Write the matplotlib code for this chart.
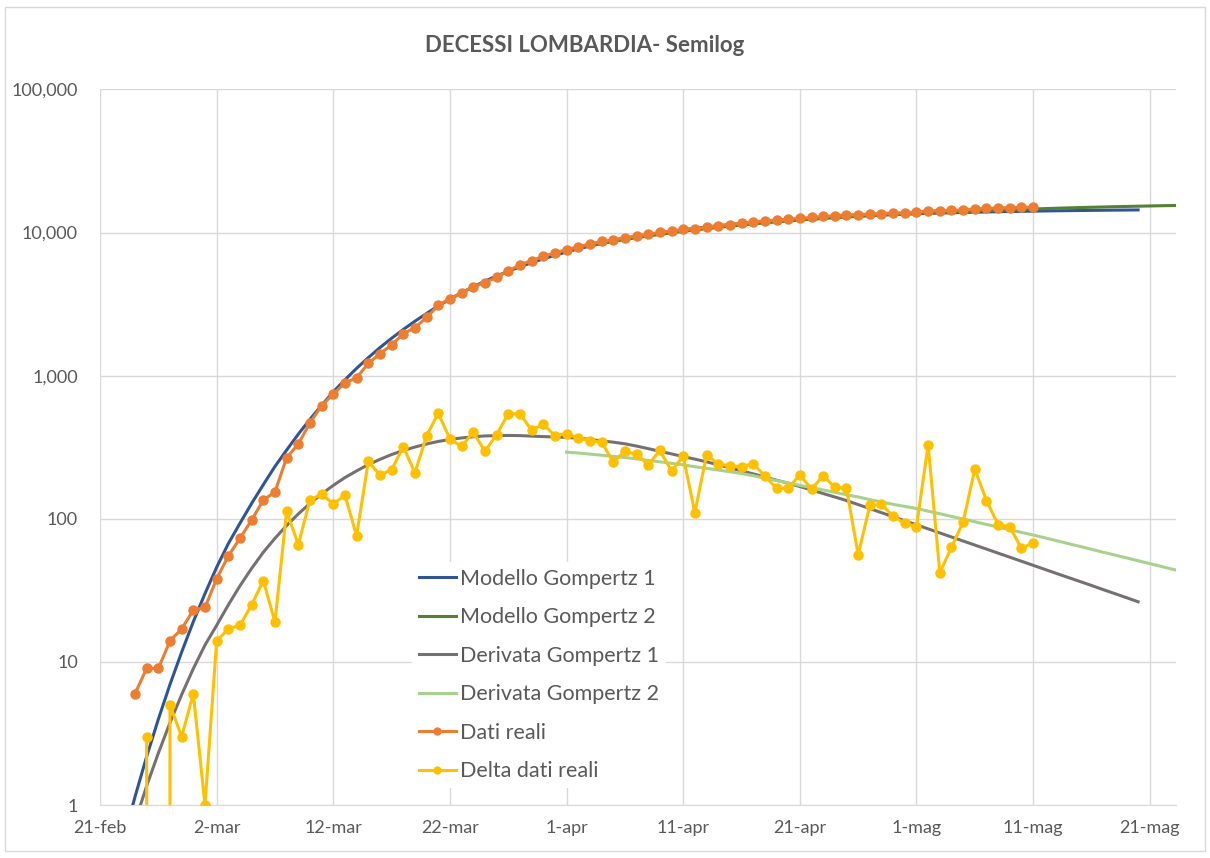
import matplotlib
matplotlib.use("Agg")
import matplotlib.pyplot as plt
from matplotlib.patches import Rectangle

# days counted from 21-feb (day 0)
x_ticks = [0, 10, 20, 30, 40, 50, 60, 70, 80, 90]
x_labels = ["21-feb", "2-mar", "12-mar", "22-mar", "1-apr", "11-apr",
            "21-apr", "1-mag", "11-mag", "21-mag"]
y_ticks = [1, 10, 100, 1000, 10000, 100000]
y_labels = ["1", "10", "100", "1,000", "10,000", "100,000"]

# Dati reali (cumulative deaths), days 3..80
real_start = 3
real = [6, 9, 9, 14, 17, 23, 24,
        38, 55, 73, 98, 135, 154, 267, 333, 468, 617,
        744, 890, 966, 1218, 1420, 1640, 1959, 2168, 2549, 3095,
        3456, 3776, 4178, 4474, 4861, 5402, 5944, 6360, 6818, 7199,
        7593, 7960, 8311, 8656, 8905, 9202, 9484, 9722, 10022, 10238,
        10511, 10621, 10901, 11142, 11377, 11608, 11851, 12050, 12213, 12376,
        12579, 12740, 12940, 13106, 13269, 13325, 13449, 13575, 13679, 13772,
        13860, 14189, 14231, 14294, 14389, 14611, 14745, 14836, 14924, 14986,
        15054]

# Delta dati reali, days 4..80
delta_start = 4
delta = [3, 0, 5, 3, 6, 1,
         14, 17, 18, 25, 37, 19, 113, 66, 135, 149,
         127, 146, 76, 252, 202, 220, 319, 209, 381, 546,
         361, 320, 402, 296, 387, 541, 542, 416, 458, 381,
         394, 367, 351, 345, 249, 297, 282, 238, 300, 216,
         273, 110, 280, 241, 235, 231, 243, 199, 163, 163,
         203, 161, 200, 166, 163, 56, 124, 126, 104, 93,
         88, 329, 42, 63, 95, 222, 134, 91, 88, 62,
         68]

# Modello Gompertz 1, days 2..89
gomp1_start = 2
gomp1 = [0.57, 1.14, 2.18, 3.97, 6.96, 11.7, 19.1, 30.0,
         45.8, 67.0, 93, 128, 173, 232, 302, 390, 495, 620,
         770, 935, 1125, 1335, 1570, 1825, 2100, 2400, 2720, 3065,
         3425, 3800, 4180, 4570, 4965, 5360, 5760, 6155, 6550, 6935,
         7320, 7690, 8045, 8388, 8716, 9032, 9337, 9630, 9912, 10183,
         10440, 10687, 10922, 11146, 11357, 11559, 11750, 11931, 12103, 12264,
         12416, 12560, 12695, 12823, 12943, 13057, 13162, 13261, 13355, 13443,
         13525, 13602, 13675, 13742, 13805, 13865, 13921, 13972, 14019, 14066,
         14108, 14147, 14184, 14218, 14251, 14281, 14310, 14335, 14360, 14383]

# Derivata Gompertz 1, days 3..89
der1_start = 3
der1 = [0.76, 1.36, 2.30, 3.76, 5.90, 8.97, 13.1,
        18.0, 25.0, 34.0, 45.0, 58.3, 73.0, 89.7, 108, 128, 149,
        171, 194, 216, 239, 260, 281, 300, 317, 333, 347,
        358, 367, 374, 379, 381, 382, 381, 378, 375, 373,
        370, 366, 358, 350, 343, 334, 322, 309, 296, 284,
        272, 261, 250, 238, 227, 216, 206, 196, 186, 177,
        168, 159, 150, 142, 134, 125.6, 117.7, 110.3, 103.3, 96.8,
        90.7, 85.0, 79.6, 74.6, 69.9, 65.5, 61.4, 57.5, 53.9, 50.5,
        47.3, 44.3, 41.5, 38.9, 36.5, 34.2, 32.0, 30.0, 28.1, 26.3]

# Modello Gompertz 2, days 40..93
gomp2_start = 40
gomp2 = [7550, 7838, 8121, 8399, 8672, 8940, 9202, 9458, 9708, 9952,
         10190, 10421, 10646, 10865, 11078, 11285, 11485, 11677, 11862, 12040,
         12211, 12376, 12535, 12688, 12835, 12977, 13113, 13244, 13370, 13492,
         13610, 13723, 13831, 13935, 14035, 14131, 14223, 14311, 14395, 14475,
         14600, 14690, 14780, 14860, 14940, 15010, 15080, 15150, 15210, 15270,
         15330, 15390, 15440, 15490]

# Derivata Gompertz 2, days 40..93
der2_start = 40
der2 = [292, 288, 283, 278, 273, 268, 262, 256, 250, 244,
        238, 231, 225, 219, 213, 207, 200, 192, 185, 178,
        171, 165, 159, 153, 147, 142, 136, 131, 126, 122,
        118, 113, 108.4, 103.8, 99.5, 95.3, 91.3, 87.5, 83.8, 80.3,
        77, 73.6, 70.3, 67.1, 64.1, 61.2, 58.4, 55.8, 53.3, 50.9,
        48.6, 46.4, 44.3, 42.3]


def days(start, values):
    return list(range(start, start + len(values)))


plt.rcParams['font.family'] = ['Lato', 'DejaVu Sans']

fig = plt.figure(figsize=(12.10, 8.58), dpi=100)
ax = fig.add_axes([100 / 1210, 1 - 805 / 858, 1076 / 1210, 715.6 / 858])

lw = 2.2
ax.plot(days(gomp1_start, gomp1), gomp1, color='#2F5597', lw=lw, label='Modello Gompertz 1', zorder=3)
ax.plot(days(gomp2_start, gomp2), gomp2, color='#548235', lw=lw, label='Modello Gompertz 2', zorder=3)
ax.plot(days(der1_start, der1), der1, color='#767171', lw=lw, label='Derivata Gompertz 1', zorder=3)
ax.plot(days(der2_start, der2), der2, color='#A9D18E', lw=lw, label='Derivata Gompertz 2', zorder=3)
ax.plot(days(real_start, real), real, color='#ED7D31', lw=lw, marker='o', ms=6.5,
        label='Dati reali', zorder=4)
ax.plot(days(delta_start, delta), delta, color='#FFC000', lw=lw, marker='o', ms=6.5,
        label='Delta dati reali', zorder=5)

ax.set_yscale('log')
ax.set_ylim(1, 100000)
ax.set_xlim(0, 92.25)
ax.set_yticks(y_ticks)
ax.set_yticklabels(y_labels)
ax.yaxis.set_minor_locator(matplotlib.ticker.NullLocator())
ax.set_xticks(x_ticks)
ax.set_xticklabels(x_labels)

ax.grid(True, color='#D9D9D9', lw=1)
ax.set_axisbelow(True)
for s in ['top', 'right', 'left']:
    ax.spines[s].set_visible(False)
ax.spines['bottom'].set_color('#D9D9D9')
ax.tick_params(length=0, labelsize=13, labelcolor='#595959')
ax.tick_params(axis='x', pad=11)
ax.tick_params(axis='y', pad=16)

fig.text(0.483, 1 - 45 / 858, 'DECESSI LOMBARDIA- Semilog', ha='center', va='center',
         fontsize=16, fontweight='bold', color='#595959')

leg = ax.legend(loc='upper left', bbox_to_anchor=(0.280, 0.354), frameon=True,
                fontsize=15.5, handlelength=1.75, handletextpad=0.2,
                labelspacing=0.86, borderpad=0.3, labelcolor='#595959')
leg.get_frame().set_facecolor('white')
leg.get_frame().set_edgecolor('none')
leg.get_frame().set_alpha(1)
for h in leg.legend_handles:
    h.set_markersize(5)

fig.patches.append(Rectangle((0.004, 0.008), 0.992, 0.984, transform=fig.transFigure,
                             fill=False, edgecolor='#D9D9D9', lw=1))

fig.savefig('out.png', dpi=100)
